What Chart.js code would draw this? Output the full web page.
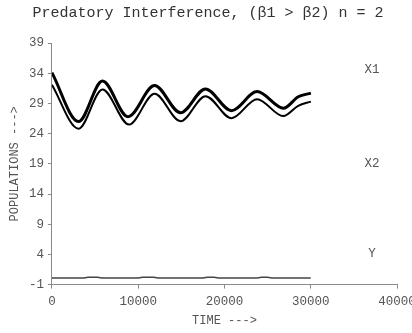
<!DOCTYPE html>
<html>
<head>
<meta charset="utf-8">
<script src="https://cdn.jsdelivr.net/npm/chart.js@4"></script>
<style>
  html, body { margin: 0; padding: 0; background: #fff; overflow: hidden; }
  #wrap { width: 412px; height: 333px; }
</style>
</head>
<body>
<div id="wrap"><canvas id="popChart" width="412" height="333"></canvas></div>
<script>
// Data
const x1Times  = [0, 3090, 5860, 8820, 11900, 14910, 17800, 20810, 23780, 26850, 28550, 30020];
const x1Values = [34.1, 26.0, 32.7, 26.8, 31.95, 27.45, 31.4, 27.8, 30.95, 28.2, 30.1, 30.7];

const x2Times  = [0, 3090, 5860, 8940, 11900, 14910, 17800, 20810, 23780, 26820, 28550, 30020];
const x2Values = [32.1, 24.8, 31.3, 25.5, 30.6, 26.05, 30.2, 26.55, 29.7, 26.9, 28.6, 29.3];

const yTimes  = [0, 3700, 4200, 5300, 5800, 10000, 10500, 11800, 12300, 17500, 18000, 18800, 19300, 23800, 24300, 25000, 25500, 30000];
const yValues = [0.1, 0.1, 0.22, 0.22, 0.1, 0.1, 0.22, 0.22, 0.1, 0.1, 0.2, 0.2, 0.1, 0.1, 0.2, 0.2, 0.1, 0.1];

const yTicks = [-1, 4, 9, 14, 19, 24, 29, 34, 39];
const xTicks = [0, 10000, 20000, 30000, 40000];

// series names written at the right of the plot (data coords)
const seriesLabels = ['X1', 'X2', 'Y'];
const labelTimes   = [37100, 37100, 37100];
const labelValues  = [34.6, 19.0, 4.2];

const MONO = "'Liberation Mono', 'Courier New', monospace";
const axisColor = '#8a8a8a';
const textColor = '#555';

function toPoints(xs, ys) {
    return xs.map((x, i) => ({x: x, y: ys[i]}));
}

// draws the X1 / X2 / Y names inside the plot
const seriesNamePlugin = {
    id: 'seriesNames',
    afterDatasetsDraw(chart) {
        const ctx = chart.ctx;
        const xs = chart.scales.x, ys = chart.scales.y;
        ctx.save();
        ctx.font = '12.5px ' + MONO;
        ctx.fillStyle = textColor;
        ctx.textAlign = 'center';
        ctx.textBaseline = 'middle';
        seriesLabels.forEach((txt, i) => {
            ctx.fillText(txt, xs.getPixelForValue(labelTimes[i]), ys.getPixelForValue(labelValues[i]));
        });
        ctx.restore();
    }
};

new Chart(document.getElementById('popChart'), {
    type: 'line',
    data: {
        datasets: [{
            label: 'X1',
            data: toPoints(x1Times, x1Values),
            borderColor: '#000',
            borderWidth: 3,
            pointRadius: 0,
            cubicInterpolationMode: 'monotone'
        }, {
            label: 'X2',
            data: toPoints(x2Times, x2Values),
            borderColor: '#000',
            borderWidth: 2,
            pointRadius: 0,
            cubicInterpolationMode: 'monotone'
        }, {
            label: 'Y',
            data: toPoints(yTimes, yValues),
            borderColor: '#444',
            borderWidth: 1.5,
            pointRadius: 0
        }]
    },
    options: {
        responsive: false,
        animation: false,
        layout: {
            padding: {left: 4, right: 0, top: 0, bottom: 5}
        },
        plugins: {
            legend: {display: false},
            tooltip: {enabled: false},
            title: {
                display: true,
                text: 'Predatory Interference, (\u03B21 > \u03B22) n = 2',
                color: '#333',
                font: {family: MONO, size: 15, weight: 'normal'},
                padding: {top: 4, bottom: 21}
            }
        },
        scales: {
            x: {
                type: 'linear',
                min: 0,
                max: 40000,
                // let the last label run off the right edge, as in the original
                afterFit(scale) { scale.paddingRight = 15; },
                afterBuildTicks(scale) { scale.ticks = xTicks.map(v => ({value: v})); },
                title: {
                    display: true,
                    text: 'TIME --->',
                    color: textColor,
                    font: {family: MONO, size: 12},
                    padding: {top: -2, bottom: 0}
                },
                ticks: {
                    color: textColor,
                    font: {family: MONO, size: 12.5},
                    maxRotation: 0,
                    autoSkip: false,
                    padding: 6,
                    callback: v => String(v)
                },
                grid: {
                    drawOnChartArea: false,
                    color: axisColor,
                    tickLength: 4
                },
                border: {color: axisColor, width: 1}
            },
            y: {
                type: 'linear',
                min: -1,
                max: 39,
                afterBuildTicks(scale) { scale.ticks = yTicks.map(v => ({value: v})); },
                title: {
                    display: true,
                    text: 'POPULATIONS --->',
                    color: textColor,
                    font: {family: MONO, size: 12},
                    padding: {top: 4, bottom: 2.5}
                },
                ticks: {
                    color: textColor,
                    font: {family: MONO, size: 12.5},
                    autoSkip: false,
                    padding: 4,
                    callback: v => String(v)
                },
                grid: {
                    drawOnChartArea: false,
                    color: axisColor,
                    tickLength: 4
                },
                border: {color: axisColor, width: 1}
            }
        }
    },
    plugins: [seriesNamePlugin]
});
</script>
</body>
</html>
